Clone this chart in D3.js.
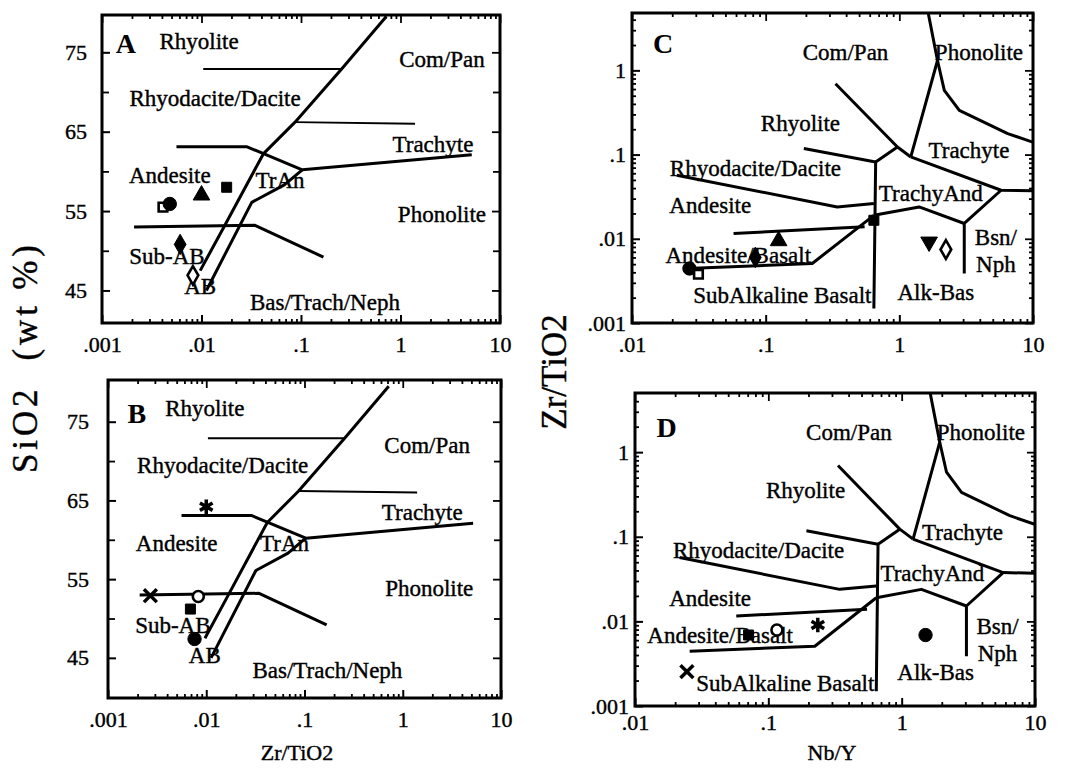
<!DOCTYPE html>
<html>
<head>
<meta charset="utf-8">
<script src="https://cdn.jsdelivr.net/npm/d3@7"></script>
<style>
  body { margin: 0; background: #fff; }
  svg text { font-family: "Liberation Serif", "DejaVu Serif", serif; fill: #000; }
</style>
</head>
<body>
<svg id="chart" width="1066" height="769" font-family="Liberation Serif, serif"></svg>
<script>
// ---- tick values / labels ----
const siMajor = [45, 55, 65, 75];
const siMinor = [50, 60, 70];
const zrMajorX = [0.001, 0.01, 0.1, 1, 10];
const zrMajorXLabels = ['.001', '.01', '.1', '1', '10'];
const nbyMajor = [0.01, 0.1, 1, 10];
const nbyMajorLabels = ['.01', '.1', '1', '10'];
const zrMajorY = [0.001, 0.01, 0.1, 1];
const zrMajorYLabels = ['.001', '.01', '.1', '1'];

// ---- SiO2 vs Zr/TiO2 field boundaries, points are [Zr/TiO2, SiO2] ----
const siBoundaries = [
  [[0.0097, 47.5], [0.0168, 53.0], [0.0418, 62.2], [0.0871, 66.2], [0.256, 72.9], [0.72, 79.5]],
  [[0.0112, 45.0], [0.032, 56.1], [0.068, 58.3], [0.103, 60.2]],
  [[0.0056, 63.1], [0.0287, 63.1], [0.103, 60.2], [5.2, 62.1]],
  [[0.0021, 53.0], [0.0345, 53.2], [0.168, 49.2]]
];
const siGuides = [
  [[0.087, 66.2], [1.4, 66.0]],
  [[0.0104, 72.9], [0.256, 72.9]]
];

// ---- Zr/TiO2 vs Nb/Y field boundaries, points are [Nb/Y, Zr/TiO2] ----
const nbBoundaries = [
  [[1.6, 6], [1.93, 1.31], [1.218, 0.0937]],
  [[1.93, 1.31], [2.17, 0.579], [2.81, 0.335], [6.47, 0.1774], [11, 0.133]],
  [[0.333, 0.695], [0.968, 0.123], [1.218, 0.0937]],
  [[0.968, 0.123], [0.665, 0.0817], [0.645, 0.00149]],
  [[0.193, 0.118], [0.665, 0.0817]],
  [[1.218, 0.0937], [5.77, 0.0377], [11, 0.037]],
  [[5.77, 0.0377], [3.06, 0.0152], [3.06, 0.00388]],
  [[3.06, 0.0152], [1.406, 0.0239], [0.645, 0.019]],
  [[0.0216, 0.0568], [0.343, 0.0239], [0.645, 0.0262]],
  [[0.0575, 0.01156], [0.55, 0.0139]],
  [[0.0257, 0.00444], [0.223, 0.00509], [0.645, 0.019]]
];

// ---- samples ----
const samplesA = [
  {sym: 'squareOpen', x: 0.0041, y: 55.5},
  {sym: 'circle', x: 0.0048, y: 55.9},
  {sym: 'triangle', x: 0.0100, y: 57.0},
  {sym: 'square', x: 0.0179, y: 58.0},
  {sym: 'diamond', x: 0.0061, y: 50.8},
  {sym: 'diamondOpen', x: 0.0082, y: 46.9}
];
const samplesB = [
  {sym: 'asterisk', x: 0.0100, y: 64.2},
  {sym: 'cross', x: 0.0027, y: 52.9},
  {sym: 'circleOpen', x: 0.0083, y: 52.8},
  {sym: 'square', x: 0.0069, y: 51.2},
  {sym: 'circle', x: 0.0076, y: 47.4}
];
const samplesC = [
  {sym: 'circle', x: 0.0269, y: 0.00444},
  {sym: 'squareOpen', x: 0.0314, y: 0.0038},
  {sym: 'diamond', x: 0.0837, y: 0.0060},
  {sym: 'triangle', x: 0.125, y: 0.00944},
  {sym: 'square', x: 0.645, y: 0.0166},
  {sym: 'triangleDown', x: 1.67, y: 0.00919},
  {sym: 'diamondOpen', x: 2.23, y: 0.00746}
];
const samplesD = [
  {sym: 'square', x: 0.0711, y: 0.0069},
  {sym: 'circleOpen', x: 0.116, y: 0.0079},
  {sym: 'asterisk', x: 0.235, y: 0.00907},
  {sym: 'cross', x: 0.0245, y: 0.00255},
  {sym: 'circle', x: 1.51, y: 0.0069}
];

// ---- field names, [text, x, y] in data units ----
const fieldsA = [
  ['Rhyolite', 0.00945, 76.4], ['Com/Pan', 2.61, 74.2], ['Rhyodacite/Dacite', 0.0137, 69.3],
  ['Trachyte', 2.12, 63.5], ['Andesite', 0.0048, 59.5], ['TrAn', 0.0615, 58.9],
  ['Phonolite', 2.61, 54.7], ['Sub-AB', 0.0045, 49.4], ['AB', 0.0097, 45.6],
  ['Bas/Trach/Neph', 0.174, 43.5]
];
const fieldsB = [
  ['Rhyolite', 0.00966, 76.8], ['Com/Pan', 1.77, 72.1], ['Rhyodacite/Dacite', 0.0147, 69.5],
  ['Trachyte', 1.58, 63.6], ['Andesite', 0.0050, 59.6], ['TrAn', 0.0627, 59.6],
  ['Phonolite', 1.86, 53.9], ['Sub-AB', 0.00457, 49.2], ['AB', 0.00966, 45.4],
  ['Bas/Trach/Neph', 0.171, 43.5]
];
const fieldsC = [
  ['Com/Pan', 0.396, 1.635], ['Phonolite', 3.94, 1.635], ['Rhyolite', 0.182, 0.235],
  ['Trachyte', 3.32, 0.1125], ['Rhyodacite/Dacite', 0.0838, 0.0688], ['TrachyAnd', 1.72, 0.0347],
  ['Andesite', 0.0385, 0.025], ['Andesite/Basalt', 0.0624, 0.00639], ['Bsn/', 5.28, 0.0106],
  ['Nph', 5.28, 0.0050], ['SubAlkaline Basalt', 0.1334, 0.00214], ['Alk-Bas', 1.875, 0.00233]
];
const fieldsD = [
  ['Com/Pan', 0.402, 1.74], ['Phonolite', 3.93, 1.74], ['Rhyolite', 0.19, 0.356],
  ['Trachyte', 2.86, 0.1146], ['Rhyodacite/Dacite', 0.0845, 0.0697], ['TrachyAnd', 1.70, 0.037],
  ['Andesite', 0.0366, 0.01874], ['Andesite/Basalt', 0.0435, 0.0069], ['Bsn/', 5.24, 0.0088],
  ['Nph', 5.24, 0.0042], ['SubAlkaline Basalt', 0.134, 0.00186], ['Alk-Bas', 1.80, 0.00255]
];
const panelLetters = [['A', 0.00174, 76.1], ['B', 0.00197, 76.1], ['C', 0.0171, 2.09], ['D', 0.0173, 1.99]];

// ---- layout ----
const FONT = 'Liberation Serif, DejaVu Serif, serif';
const svg = d3.select('#chart');
svg.append('rect').attr('width', 1066).attr('height', 769).attr('fill', '#fff');

const symbolStyle = {
  square: {type: d3.symbolSquare, size: 100, fill: true},
  squareOpen: {type: d3.symbolSquare, size: 75, fill: false},
  circle: {type: d3.symbolCircle, size: 140, fill: true},
  circleOpen: {type: d3.symbolCircle, size: 95, fill: false},
  triangle: {type: d3.symbolTriangle, size: 120, fill: true},
  triangleDown: {type: d3.symbolTriangle, size: 120, fill: true, rotate: 180},
  diamond: {type: d3.symbolDiamond, size: 120, fill: true},
  diamondOpen: {type: d3.symbolDiamond, size: 100, fill: false},
  asterisk: {type: d3.symbolAsterisk, size: 150, stroke: true},
  cross: {type: d3.symbolTimes, size: 110, stroke: true}
};

function minorLog(domain) {
  const out = [];
  const k0 = Math.floor(Math.log10(domain[0]) + 1e-9), k1 = Math.ceil(Math.log10(domain[1]) - 1e-9);
  for (let k = k0; k < k1; k++) {
    for (let m = 2; m < 10; m++) {
      const v = +(m * Math.pow(10, k)).toPrecision(6);
      if (v > domain[0] && v < domain[1]) out.push(v);
    }
  }
  return out;
}

function tickAxis(g, axis, pos, values, len) {
  const a = g.append('g').attr('transform', pos)
    .call(axis.tickValues(values).tickSize(-len).tickFormat(''));
  a.select('.domain').remove();
  a.selectAll('line').attr('stroke-width', 1.8);
  return a;
}

function labelAxis(g, axis, pos, values, labels, len, pad) {
  const a = g.append('g').attr('transform', pos)
    .call(axis.tickValues(values).tickSize(-len).tickPadding(pad).tickFormat((d, i) => labels[i]));
  a.select('.domain').remove();
  a.selectAll('line').attr('stroke-width', 2);
  a.attr('font-family', FONT).attr('font-size', 22);
  a.selectAll('text').attr('stroke', '#000').attr('stroke-width', 0.4);
  return a;
}

function drawPanel(p) {
  const x = d3.scaleLog().domain(p.xDomain).range([p.left, p.right]);
  const y = (p.yLog ? d3.scaleLog() : d3.scaleLinear()).domain(p.yDomain).range([p.bottom, p.top]);
  const g = svg.append('g');

  g.append('clipPath').attr('id', 'clip' + p.letter)
    .append('rect')
    .attr('x', p.left).attr('y', p.top)
    .attr('width', p.right - p.left).attr('height', p.bottom - p.top);

  // tick marks on four sides, inward
  const xMinor = minorLog(p.xDomain);
  tickAxis(g, d3.axisBottom(x), `translate(0,${p.bottom})`, xMinor, 4);
  tickAxis(g, d3.axisTop(x), `translate(0,${p.top})`, xMinor, 4);
  tickAxis(g, d3.axisTop(x), `translate(0,${p.top})`, p.xMajor, 8);
  labelAxis(g, d3.axisBottom(x), `translate(0,${p.bottom})`, p.xMajor, p.xLabels, 8, p.xPad);

  const yMinor = p.yLog ? minorLog(p.yDomain) : p.yMinor;
  const yMinorLen = p.yLog ? 4 : 7;
  tickAxis(g, d3.axisLeft(y), `translate(${p.left},0)`, yMinor, yMinorLen);
  tickAxis(g, d3.axisRight(y), `translate(${p.right},0)`, yMinor, yMinorLen);
  tickAxis(g, d3.axisRight(y), `translate(${p.right},0)`, p.yMajor, 8);
  labelAxis(g, d3.axisLeft(y), `translate(${p.left},0)`, p.yMajor, p.yLabels, 8, p.yPad);

  // field boundaries
  const line = d3.line().x(d => x(d[0])).y(d => y(d[1]));
  const lines = g.append('g').attr('clip-path', `url(#clip${p.letter})`)
    .attr('fill', 'none').attr('stroke', '#000').attr('stroke-linejoin', 'round');
  lines.selectAll('path.thick').data(p.boundaries).join('path')
    .attr('class', 'thick').attr('d', line).attr('stroke-width', 3);
  lines.selectAll('path.thin').data(p.guides || []).join('path')
    .attr('class', 'thin').attr('d', line).attr('stroke-width', 1.9);

  // field names
  g.append('g').selectAll('text').data(p.fields).join('text')
    .attr('x', d => x(d[1])).attr('y', d => y(d[2]))
    .attr('dy', '0.35em').attr('text-anchor', 'middle')
    .attr('font-family', FONT).attr('font-size', 23)
    .attr('stroke', '#000').attr('stroke-width', 0.4)
    .text(d => d[0]);

  const L = panelLetters.find(d => d[0] === p.letter);
  g.append('text').attr('x', x(L[1])).attr('y', y(L[2])).attr('dy', '0.35em')
    .attr('text-anchor', 'middle').attr('font-family', FONT)
    .attr('font-size', 28).attr('font-weight', 'bold')
    .text(L[0]);

  // samples
  g.append('g').selectAll('path').data(p.samples).join('path')
    .attr('transform', d => `translate(${x(d.x)},${y(d.y)})` + (symbolStyle[d.sym].rotate ? ` rotate(${symbolStyle[d.sym].rotate})` : ''))
    .attr('d', d => d3.symbol(symbolStyle[d.sym].type, symbolStyle[d.sym].size)())
    .attr('fill', d => symbolStyle[d.sym].stroke ? 'none' : (symbolStyle[d.sym].fill ? '#000' : '#fff'))
    .attr('stroke', '#000')
    .attr('stroke-width', d => symbolStyle[d.sym].stroke ? 3.5 : (symbolStyle[d.sym].fill ? 1 : 2.6));

  // frame
  g.append('rect')
    .attr('x', p.left).attr('y', p.top)
    .attr('width', p.right - p.left).attr('height', p.bottom - p.top)
    .attr('fill', 'none').attr('stroke', '#000').attr('stroke-width', 3);
}

drawPanel({
  letter: 'A', left: 102, right: 500, top: 15, bottom: 323,
  xDomain: [0.001, 10], yDomain: [40.9, 79.7], yLog: false,
  xMajor: zrMajorX, xLabels: zrMajorXLabels, xPad: 13,
  yMajor: siMajor, yLabels: siMajor.map(String), yMinor: siMinor, yPad: 15,
  boundaries: siBoundaries, guides: siGuides, fields: fieldsA, samples: samplesA
});
drawPanel({
  letter: 'B', left: 108, right: 501, top: 380, bottom: 698,
  xDomain: [0.001, 10], yDomain: [39.9, 80.3], yLog: false,
  xMajor: zrMajorX, xLabels: zrMajorXLabels, xPad: 13,
  yMajor: siMajor, yLabels: siMajor.map(String), yMinor: siMinor, yPad: 19,
  boundaries: siBoundaries, guides: siGuides, fields: fieldsB, samples: samplesB
});
drawPanel({
  letter: 'C', left: 632, right: 1033, top: 13, bottom: 323,
  xDomain: [0.01, 10], yDomain: [0.001, 4.8], yLog: true,
  xMajor: nbyMajor, xLabels: nbyMajorLabels, xPad: 13,
  yMajor: zrMajorY, yLabels: zrMajorYLabels, yPad: 6,
  boundaries: nbBoundaries, fields: fieldsC, samples: samplesC
});
drawPanel({
  letter: 'D', left: 635, right: 1035, top: 393, bottom: 706,
  xDomain: [0.01, 10], yDomain: [0.001, 5], yLog: true,
  xMajor: nbyMajor, xLabels: nbyMajorLabels, xPad: 8,
  yMajor: zrMajorY, yLabels: zrMajorYLabels, yPad: 6,
  boundaries: nbBoundaries, fields: fieldsD, samples: samplesD
});

// axis titles
svg.append('text')
  .attr('transform', 'translate(37,359) rotate(-90)')
  .attr('text-anchor', 'middle').attr('font-family', FONT).attr('font-size', 35)
  .attr('textLength', 228).attr('lengthAdjust', 'spacing')
  .attr('stroke', '#000').attr('stroke-width', 0.4)
  .attr('xml:space', 'preserve')
  .text('SiO2  (wt %)');
svg.append('text')
  .attr('transform', 'translate(566,372) rotate(-90)')
  .attr('text-anchor', 'middle').attr('font-family', FONT).attr('font-size', 35)
  .attr('stroke', '#000').attr('stroke-width', 0.4)
  .text('Zr/TiO2');
svg.append('text')
  .attr('x', 297).attr('y', 760).attr('text-anchor', 'middle')
  .attr('font-family', FONT).attr('font-size', 22)
  .attr('stroke', '#000').attr('stroke-width', 0.4)
  .text('Zr/TiO2');
svg.append('text')
  .attr('x', 832).attr('y', 760).attr('text-anchor', 'middle')
  .attr('font-family', FONT).attr('font-size', 22)
  .attr('stroke', '#000').attr('stroke-width', 0.4)
  .text('Nb/Y');
</script>
</body>
</html>
